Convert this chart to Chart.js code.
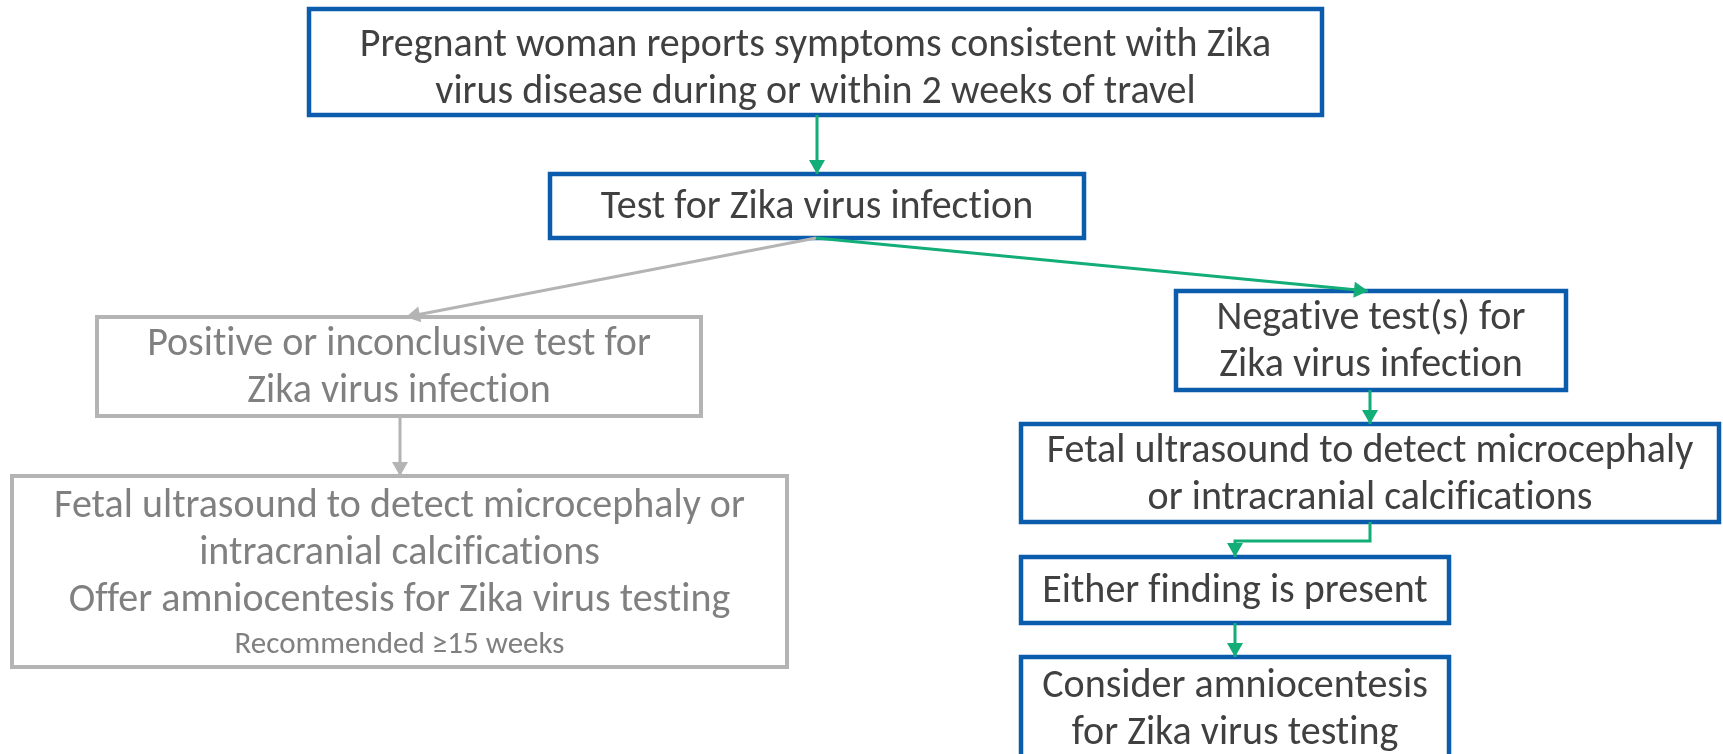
<!DOCTYPE html>
<html>
<head>
<meta charset="utf-8">
<script src="https://cdn.jsdelivr.net/npm/chart.js@4/dist/chart.umd.min.js"></script>
<style>
  html, body { margin: 0; padding: 0; background: #fff; }
  #flow { display: block; }
</style>
</head>
<body>
<canvas id="flow" width="1723" height="754"></canvas>
<script>
// node texts (one entry per box, one string per line)
const nodeLabels = [
    ['Pregnant woman reports symptoms consistent with Zika', 'virus disease during or within 2 weeks of travel'],
    ['Test for Zika virus infection'],
    ['Positive or inconclusive test for', 'Zika virus infection'],
    ['Fetal ultrasound to detect microcephaly or', 'intracranial calcifications', 'Offer amniocentesis for Zika virus testing', 'Recommended \u226515 weeks'],
    ['Negative test(s) for', 'Zika virus infection'],
    ['Fetal ultrasound to detect microcephaly', 'or intracranial calcifications'],
    ['Either finding is present'],
    ['Consider amniocentesis', 'for Zika virus testing']
]
// which path each box belongs to
const nodePath = ['main', 'main', 'alt', 'alt', 'main', 'main', 'main', 'main']

// box layout in axis units [x0, y0, x1, y1] + vertical text shift
const nodeBoxes = [
    [309, 9, 1322, 115],
    [550, 174, 1084, 238],
    [97, 317, 701, 416],
    [12, 476, 787, 667],
    [1176, 291, 1566, 390],
    [1021, 424, 1719, 522],
    [1021, 557, 1449, 623],
    [1021, 657, 1449, 760]
]
const nodeTextShift = [5, 0, 0, 1, 0, 0, 0, 0]

// connectors: path + list of points, arrow at the last one
const linkPath = ['main', 'alt', 'main', 'alt', 'main', 'main', 'main']
const linkPoints = [
    [[817, 115], [817, 174]],
    [[816, 238], [406, 317]],
    [[816, 238], [1368, 291]],
    [[400, 416], [400, 476]],
    [[1370, 390], [1370, 424]],
    [[1370, 522], [1370, 541], [1235, 541], [1235, 557]],
    [[1235, 623], [1235, 657]]
]

const colors = {
    main: { border: '#0b5cad', text: '#404040', link: '#13ad77' },
    alt: { border: '#b4b4b4', text: '#808080', link: '#b4b4b4' }
}
const fontFamily = "Carlito, 'Liberation Sans Narrow', 'Open Sans', sans-serif"

const datasets = linkPoints.map((pts, i) => ({
    data: pts.map((p) => ({ x: p[0], y: p[1] })),
    showLine: true,
    borderColor: colors[linkPath[i]].link,
    borderWidth: 3,
    pointRadius: 0,
    tension: 0,
    clip: false
}))

// boxes and their text
const boxPlugin = {
    id: 'boxes',
    beforeDatasetsDraw(chart) {
        const { ctx, scales } = chart
        const xs = scales.x, ys = scales.y
        ctx.save()
        nodeBoxes.forEach((b, i) => {
            const c = colors[nodePath[i]]
            const x0 = xs.getPixelForValue(b[0]), x1 = xs.getPixelForValue(b[2])
            const y0 = ys.getPixelForValue(b[1]), y1 = ys.getPixelForValue(b[3])
            ctx.fillStyle = '#fff'
            ctx.fillRect(x0, y0, x1 - x0, y1 - y0)
            ctx.strokeStyle = c.border
            ctx.lineWidth = nodePath[i] == 'main' ? 4.5 : 4
            ctx.strokeRect(x0, y0, x1 - x0, y1 - y0)

            const lines = nodeLabels[i]
            const small = lines.map((t) => t.startsWith('Recommended'))
            const sizes = small.map((s) => (s ? 31 : 40))
            const heights = small.map((s) => (s ? 42 : 47))
            const total = heights.reduce((a, h) => a + h, 0)
            let y = (y0 + y1) / 2 - total / 2 + nodeTextShift[i]
            ctx.fillStyle = c.text
            ctx.textAlign = 'center'
            ctx.textBaseline = 'middle'
            if ('letterSpacing' in ctx) ctx.letterSpacing = '0.01px' // pas de ligatures
            lines.forEach((t, k) => {
                ctx.font = sizes[k] + 'px ' + fontFamily
                ctx.fillText(t, (x0 + x1) / 2, y + heights[k] / 2 + 2)
                y += heights[k]
            })
        })
        ctx.restore()
    },
    afterDatasetsDraw(chart) {
        const { ctx, scales } = chart
        ctx.save()
        linkPoints.forEach((pts, i) => {
            const a = pts[pts.length - 2], b = pts[pts.length - 1]
            const ax = scales.x.getPixelForValue(a[0]), ay = scales.y.getPixelForValue(a[1])
            const bx = scales.x.getPixelForValue(b[0]), by = scales.y.getPixelForValue(b[1])
            const ang = Math.atan2(by - ay, bx - ax)
            const len = 14, half = 8
            ctx.fillStyle = colors[linkPath[i]].link
            ctx.beginPath()
            ctx.moveTo(bx, by)
            ctx.lineTo(bx - len * Math.cos(ang) + half * Math.sin(ang), by - len * Math.sin(ang) - half * Math.cos(ang))
            ctx.lineTo(bx - len * Math.cos(ang) - half * Math.sin(ang), by - len * Math.sin(ang) + half * Math.cos(ang))
            ctx.closePath()
            ctx.fill()
        })
        ctx.restore()
    }
}

new Chart(document.getElementById('flow'), {
    type: 'scatter',
    data: { datasets },
    options: {
        responsive: false,
        animation: false,
        devicePixelRatio: 1,
        layout: { padding: 0 },
        plugins: { legend: { display: false }, tooltip: { enabled: false } },
        scales: {
            x: { type: 'linear', min: 0, max: 1723, display: false },
            y: { type: 'linear', min: 0, max: 754, reverse: true, display: false }
        }
    },
    plugins: [boxPlugin]
})
</script>
</body>
</html>
